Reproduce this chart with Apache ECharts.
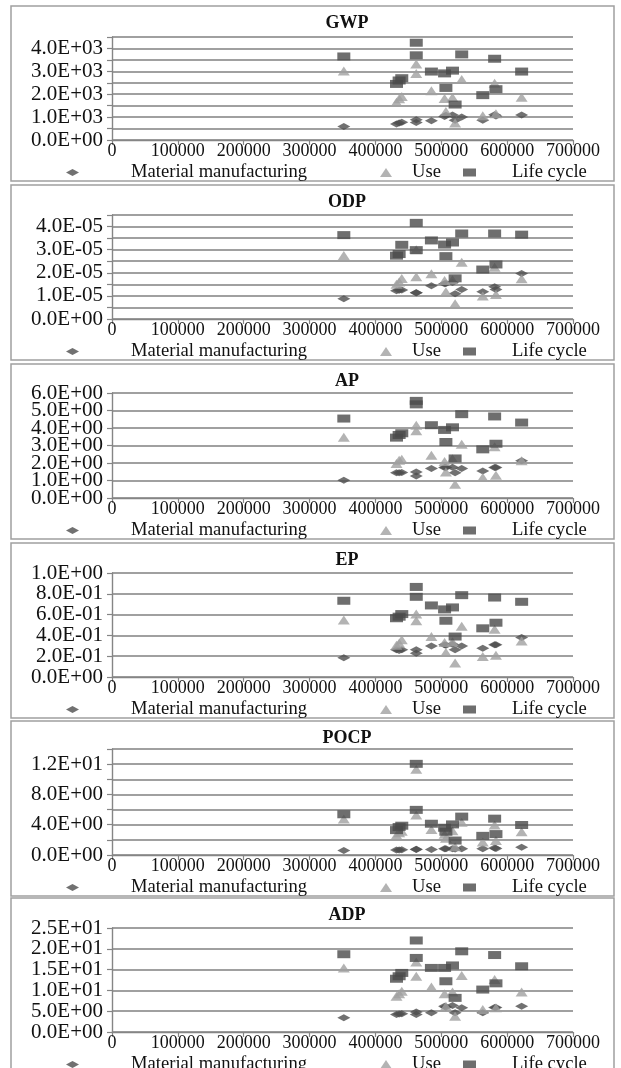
<!DOCTYPE html>
<html>
<head>
<meta charset="utf-8">
<script src="https://cdn.jsdelivr.net/npm/echarts@6/dist/echarts.min.js"></script>
<style>
html,body{margin:0;padding:0;background:#fff;}
#chart{width:621px;height:1068px;}
</style>
</head>
<body>
<div id="chart"></div>
<script>
// ---- data ----
const seriesNames = ['Material manufacturing', 'Use', 'Life cycle'];
const indicators = ['GWP', 'ODP', 'AP', 'EP', 'POCP', 'ADP'];
const xTicks = [0, 100000, 200000, 300000, 400000, 500000, 600000, 700000];
const buildingArea = [352000, 432000, 436000, 440000, 462000, 462000, 485000, 505000, 507000, 517000, 521000, 531000, 563000, 581000, 583000, 622000];

const gwpMM  = [590, 700, 740, 780, 880, 770, 840, 1030, 1080, 1090, 860, 1010, 860, 1100, 1050, 1090];
const gwpUse = [3010, 1650, 1800, 1900, 3320, 2900, 2150, 1810, 1250, 1860, 740, 2640, 1060, 2480, 1150, 1870];
const gwpLC  = [3650, 2450, 2600, 2700, 4250, 3700, 2990, 2910, 2275, 3030, 1550, 3740, 1960, 3550, 2220, 2990];

const odpMM  = [0.88e-5, 1.22e-5, 1.24e-5, 1.25e-5, 1.14e-5, 1.14e-5, 1.44e-5, 1.53e-5, 1.54e-5, 1.58e-5, 1.09e-5, 1.28e-5, 1.18e-5, 1.40e-5, 1.28e-5, 1.97e-5];
const odpUse = [2.75e-5, 1.50e-5, 1.60e-5, 1.75e-5, 3.00e-5, 1.83e-5, 1.96e-5, 1.67e-5, 1.18e-5, 1.70e-5, 0.66e-5, 2.46e-5, 0.99e-5, 2.24e-5, 1.06e-5, 1.74e-5];
const odpLC  = [3.63e-5, 2.74e-5, 2.81e-5, 3.21e-5, 4.16e-5, 2.98e-5, 3.40e-5, 3.22e-5, 2.72e-5, 3.31e-5, 1.76e-5, 3.70e-5, 2.14e-5, 3.70e-5, 2.36e-5, 3.65e-5];

const apMM  = [1.02, 1.44, 1.44, 1.46, 1.48, 1.26, 1.69, 1.74, 1.74, 1.76, 1.44, 1.69, 1.55, 1.74, 1.74, 2.13];
const apUse = [3.47, 1.97, 2.16, 2.22, 4.16, 3.85, 2.45, 2.09, 1.49, 2.25, 0.79, 3.07, 1.17, 2.93, 1.30, 2.13];
const apLC  = [4.54, 3.45, 3.60, 3.70, 5.55, 5.35, 4.16, 3.89, 3.20, 4.04, 2.26, 4.79, 2.78, 4.66, 3.10, 4.31];

const epMM  = [0.185, 0.261, 0.255, 0.261, 0.261, 0.229, 0.299, 0.309, 0.305, 0.315, 0.261, 0.299, 0.277, 0.309, 0.309, 0.379];
const epUse = [0.548, 0.306, 0.325, 0.357, 0.605, 0.541, 0.389, 0.331, 0.236, 0.340, 0.134, 0.487, 0.197, 0.459, 0.210, 0.347];
const epLC  = [0.733, 0.565, 0.580, 0.605, 0.866, 0.771, 0.688, 0.650, 0.541, 0.669, 0.389, 0.787, 0.468, 0.764, 0.522, 0.723];

const pocpMM  = [0.58, 0.67, 0.67, 0.70, 0.76, 0.72, 0.71, 0.84, 0.84, 0.84, 0.80, 0.84, 0.84, 0.93, 0.86, 1.02];
const pocpUse = [4.76, 2.62, 2.95, 3.15, 11.33, 5.29, 3.38, 2.75, 2.20, 3.20, 1.10, 4.31, 1.73, 3.96, 1.91, 3.07];
const pocpLC  = [5.38, 3.29, 3.69, 3.87, 12.04, 5.96, 4.13, 3.60, 3.07, 4.04, 1.91, 5.07, 2.53, 4.80, 2.76, 3.96];

const adpMM  = [3.4, 4.2, 4.3, 4.4, 4.8, 4.2, 4.6, 6.2, 6.0, 6.4, 4.6, 5.8, 4.6, 5.9, 5.9, 6.2];
const adpUse = [15.4, 8.6, 9.2, 9.8, 16.8, 13.4, 10.8, 9.2, 6.2, 9.6, 3.8, 13.6, 5.4, 12.6, 5.8, 9.6];
const adpLC  = [18.7, 12.8, 13.4, 14.2, 22.0, 17.8, 15.4, 15.4, 12.2, 16.0, 8.2, 19.4, 10.2, 18.5, 11.7, 15.8];

// y axis: max, grid interval, label step
const yMax       = [4500, 4.5e-5, 6, 1.0, 14, 25];
const yInterval  = [500, 0.5e-5, 1, 0.2, 2, 5];
const yLabelStep = [1000, 1e-5, 1, 0.2, 4, 5];

const panelData = [
  [gwpMM, gwpUse, gwpLC],
  [odpMM, odpUse, odpLC],
  [apMM, apUse, apLC],
  [epMM, epUse, epLC],
  [pocpMM, pocpUse, pocpLC],
  [adpMM, adpUse, adpLC]
];

// ---- layout ----
const plotTop    = [37, 215, 393, 573, 749, 928];
const plotBottom = [140, 319, 498, 677, 855, 1032];
const plotLeft = 112, plotRight = 573, W = 621;
const FONT = '"Liberation Serif", "DejaVu Serif", serif';
const symbols = ['diamond', 'triangle', 'rect'];
const symSizes = [[13, 7], [12, 9], [13, 8]];
const colors = ['#4e4e4e', '#a0a0a0', '#4a4a4a'];

function sci(v) {
  const s = Number(v).toExponential(1);
  const parts = s.split('e');
  const e = parts[1];
  const sign = e[0];
  let d = e.slice(1);
  if (d.length < 2) d = '0' + d;
  return parts[0] + 'E' + sign + d;
}

// label formatter: only multiples of the label step, split by parity over two
// overlaid axes so that ECharts' min/max overlap check never hides a label
function makeFormatter(step, parity) {
  return function (v) {
    const r = v / step;
    const k = Math.round(r);
    if (Math.abs(r - k) > 1e-6) return '';
    if (k % 2 !== parity) return '';
    return sci(v);
  };
}

const grids = [], xAxes = [], yAxes = [], series = [], titles = [], legends = [], graphics = [];
const yLabelStyle = { fontFamily: FONT, fontSize: 21, color: '#111', margin: 9, showMinLabel: true, showMaxLabel: true, hideOverlap: false };

for (let p = 0; p < 6; p++) {
  grids.push({ left: plotLeft, right: W - plotRight, top: plotTop[p], height: plotBottom[p] - plotTop[p] });
  xAxes.push({
    type: 'value', gridIndex: p, min: xTicks[0], max: xTicks[xTicks.length - 1], interval: xTicks[1] - xTicks[0],
    splitLine: { show: false },
    axisLine: { show: true, lineStyle: { color: '#858585', width: 1.4 } },
    axisTick: { show: true, length: 5, lineStyle: { color: '#858585', width: 1.2 } },
    axisLabel: {
      fontFamily: FONT, fontSize: 18, color: '#111', margin: 2,
      showMinLabel: true, showMaxLabel: true, hideOverlap: false,
      formatter: function (v) { return String(v); }
    }
  });
  const step = yLabelStep[p];
  // main y axis (lines, ticks, even labels)
  yAxes.push({
    type: 'value', gridIndex: p, position: 'left', offset: 0, min: 0, max: yMax[p], interval: yInterval[p],
    splitLine: { show: true, lineStyle: { color: '#808080', width: 1.5 } },
    axisLine: { show: true, lineStyle: { color: '#858585', width: 1.4 } },
    axisTick: { show: true, length: 5, lineStyle: { color: '#858585', width: 1.2 } },
    axisLabel: Object.assign({}, yLabelStyle, { formatter: makeFormatter(step, 0) })
  });
  // overlaid y axis (odd labels only)
  yAxes.push({
    type: 'value', gridIndex: p, position: 'left', offset: 0, min: 0, max: yMax[p], interval: yInterval[p],
    splitLine: { show: false }, axisLine: { show: false }, axisTick: { show: false },
    axisLabel: Object.assign({}, yLabelStyle, { formatter: makeFormatter(step, 1) })
  });
  titles.push({
    text: indicators[p], left: 342, top: plotBottom[p] - 131, textAlign: 'center',
    textStyle: { fontFamily: FONT, fontSize: 18, fontWeight: 'bold', color: '#111' }
  });
  for (let s = 0; s < 3; s++) {
    const ys = panelData[p][s];
    series.push({
      name: seriesNames[s], type: 'scatter', xAxisIndex: p, yAxisIndex: 2 * p,
      symbol: symbols[s], symbolSize: symSizes[s],
      itemStyle: { color: colors[s] },
      data: buildingArea.map((x, i) => [x, ys[i]])
    });
  }
  const legLeft = [61, 375, 458];
  const legPad = [47, 15, 31];
  for (let s = 0; s < 3; s++) {
    legends.push({
      data: [seriesNames[s]], left: legLeft[s], top: plotBottom[p] + 18,
      itemWidth: symSizes[s][0], itemHeight: symSizes[s][1], selectedMode: false,
      formatter: '{g| }{t|' + seriesNames[s] + '}',
      textStyle: {
        fontFamily: FONT, fontSize: 18.6, color: '#111',
        rich: { g: { width: legPad[s] }, t: { fontFamily: FONT, fontSize: 18.6, color: '#111' } }
      }
    });
  }
  graphics.push({
    type: 'rect', silent: true,
    shape: { x: 11, y: plotBottom[p] - 134, width: 603, height: 175 },
    style: { fill: 'none', stroke: '#a0a0a0', lineWidth: 1.5 }
  });
}

const chart = echarts.init(document.getElementById('chart'), null, { renderer: 'canvas' });
chart.setOption({
  animation: false,
  backgroundColor: '#fff',
  title: titles,
  legend: legends,
  grid: grids,
  xAxis: xAxes,
  yAxis: yAxes,
  series: series,
  graphic: graphics
});
</script>
</body>
</html>
